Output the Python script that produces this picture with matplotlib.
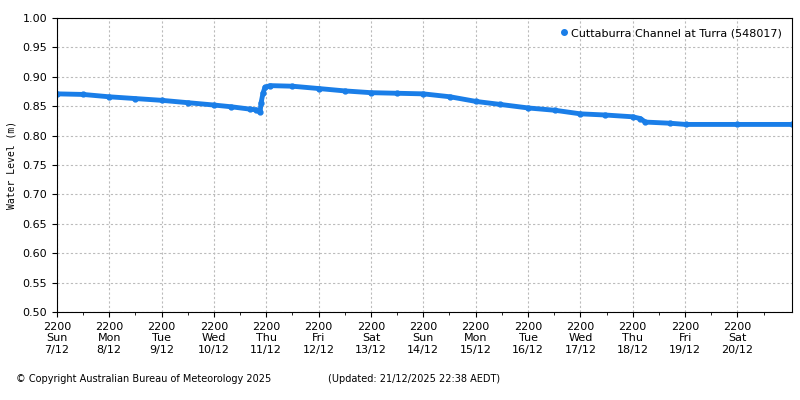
import matplotlib
matplotlib.use("Agg")
import matplotlib.pyplot as plt
from matplotlib.lines import Line2D

hours = [0, 12, 24, 36, 48, 60, 72, 80, 88.6, 91.3, 93.2, 93.6, 94.5, 95.4, 97.7, 108, 120.2, 132, 144, 156,
         168, 180.3, 192.3, 203.3, 216.1, 228.5, 240, 251.5, 263.9, 267.5, 269.8, 281.3, 288.2, 312, 337]
level = [0.871, 0.870, 0.866, 0.863, 0.860, 0.856, 0.852, 0.849, 0.845, 0.844, 0.840, 0.855, 0.872, 0.882,
         0.885, 0.884, 0.880, 0.876, 0.873, 0.872, 0.871, 0.866, 0.858, 0.853, 0.847, 0.843, 0.837, 0.835,
         0.832, 0.829, 0.823, 0.821, 0.819, 0.819, 0.819]
tick_days = ["Sun\n7/12", "Mon\n8/12", "Tue\n9/12", "Wed\n10/12", "Thu\n11/12", "Fri\n12/12", "Sat\n13/12",
             "Sun\n14/12", "Mon\n15/12", "Tue\n16/12", "Wed\n17/12", "Thu\n18/12", "Fri\n19/12", "Sat\n20/12"]

color = "#1a7ee8"
fig = plt.figure(figsize=(8, 4), dpi=100)
ax = fig.add_axes([0.071, 0.22, 0.919, 0.735])
ax.plot(hours, level, color=color, lw=3.5, marker="o", ms=3.5)
ax.set_xlim(0, 337)
ax.set_ylim(0.5, 1.0)
ax.set_yticks([0.5 + 0.05 * i for i in range(11)])
ax.set_yticklabels([f"{0.5 + 0.05 * i:.2f}" for i in range(11)], fontsize=8)
ax.set_xticks([24 * i for i in range(14)])
ax.set_xticklabels(["2200\n" + d for d in tick_days], fontsize=8)
ax.set_xticks([24 * i + 12 for i in range(14)], minor=True)
ax.tick_params(axis="x", which="minor", length=2)
ax.grid(True, color="#bbbbbb", ls=(0, (2, 2)), lw=0.8)
ax.set_ylabel("Water Level (m)", fontsize=7, family="DejaVu Sans Mono")
h = Line2D([], [], color=color, marker="o", ls="none", ms=4)
ax.legend([h], ["Cuttaburra Channel at Turra (548017)"], loc="upper right", fontsize=8, frameon=False,
          handlelength=0.5, handletextpad=0.4)
fig.text(0.02, 0.045, "© Copyright Australian Bureau of Meteorology 2025", fontsize=7)
fig.text(0.41, 0.045, "(Updated: 21/12/2025 22:38 AEDT)", fontsize=7)
fig.savefig("out.png")
